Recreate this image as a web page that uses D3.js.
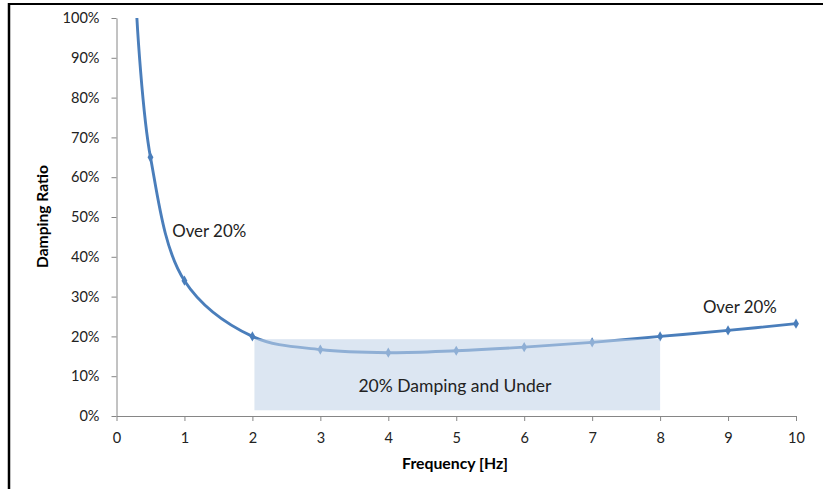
<!DOCTYPE html>
<html><head><meta charset="utf-8">
<script src="https://cdn.jsdelivr.net/npm/d3@7"></script>
<style>
html,body{margin:0;padding:0;background:#fff;}
svg text{font-family:"Lato","Open Sans",sans-serif;}
</style></head>
<body>
<svg id="chart" width="823" height="489"></svg>
<script>
const frequency = [0.3, 0.5, 1, 2, 3, 4, 5, 6, 7, 8, 9, 10];
const damping   = [1.00, 0.65, 0.34, 0.20, 0.167, 0.159, 0.164, 0.173, 0.185, 0.20, 0.215, 0.232];
const showMarker = [false, true, true, true, true, true, true, true, true, true, true, true];
const xTicks = [0,1,2,3,4,5,6,7,8,9,10];
const yTicks = [0,0.1,0.2,0.3,0.4,0.5,0.6,0.7,0.8,0.9,1.0];
const band = {x0: 2.03, x1: 8, y0: 0.0143, y1: 0.193};
const annotations = [
  {text:"Over 20%", x:0.82, y:0.45, w:74},
  {text:"Over 20%", x:8.63, y:0.259, w:74},
  {text:"20% Damping and Under", x:4.98, y:0.06, anchor:"middle", w:193}
];

const svg = d3.select("#chart");
const x = d3.scaleLinear().domain([0,10]).range([116.5,796]);
const y = d3.scaleLinear().domain([0,1]).range([416,18]);

function fit(sel, target){
  const base = 14;
  sel.style("font-size", base+"px");
  const w = sel.node().getComputedTextLength();
  const fs = base*target/w;
  sel.style("font-size", fs+"px");
  return fs;
}

// border
svg.append("line").attr("x1",8).attr("x2",823).attr("y1",4).attr("y2",4).attr("stroke","#000").attr("stroke-width",2.2);
svg.append("line").attr("x1",9).attr("x2",9).attr("y1",3).attr("y2",489).attr("stroke","#000").attr("stroke-width",2.5);

// axes
const yAxis = svg.append("g").attr("transform","translate(116.5,0)")
  .call(d3.axisLeft(y).tickValues(yTicks).tickFormat(d3.format(".0%")).tickSizeOuter(0).tickSizeInner(5).tickPadding(12));
const xAxis = svg.append("g").attr("transform","translate(0,416)")
  .call(d3.axisBottom(x).tickValues(xTicks).tickFormat(d3.format("d")).tickSizeOuter(0).tickSizeInner(5).tickPadding(12));
[yAxis,xAxis].forEach(g=>{
  g.select(".domain").attr("stroke","#868686").attr("stroke-width",1);
  g.selectAll(".tick line").attr("stroke","#868686");
  g.selectAll(".tick text").attr("fill","#222").style("font-family","Lato,'Open Sans',sans-serif");
});
// size tick labels so "100%" is ~37px wide
const topLbl = yAxis.selectAll(".tick text").filter(d=>d===1.0);
const tfs = fit(topLbl, 37);
yAxis.selectAll(".tick text").style("font-size", tfs+"px");
xAxis.selectAll(".tick text").style("font-size", tfs+"px");

// line
const pts = frequency.map((f,i)=>({f, d:damping[i], m:showMarker[i]}));
const line = d3.line().x(p=>x(p.f)).y(p=>y(p.d)).curve(d3.curveCatmullRom.alpha(0.5));
svg.append("path").datum(pts).attr("d",line).attr("fill","none").attr("stroke","#4a7ebb").attr("stroke-width",2.9);
svg.selectAll(".mk").data(pts.filter(p=>p.m)).enter().append("path")
  .attr("transform",p=>`translate(${x(p.f)},${y(p.d)})`)
  .attr("d",d3.symbol().type(d3.symbolDiamond).size(30))
  .attr("fill","#4a7ebb");

// shaded band on top (semi-transparent)
svg.append("rect").attr("x",x(band.x0)).attr("y",y(band.y1))
  .attr("width",x(band.x1)-x(band.x0)).attr("height",y(band.y0)-y(band.y1))
  .attr("fill","rgb(194,212,232)").attr("fill-opacity",0.575);

// annotations
annotations.forEach(a=>{
  const t = svg.append("text").attr("x",x(a.x)).attr("y",y(a.y)).attr("text-anchor",a.anchor||"start")
    .attr("fill","#222").text(a.text);
  fit(t, a.w);
});

// titles
const xt = svg.append("text").attr("x",455).attr("y",469).attr("text-anchor","middle")
  .style("font-weight","bold").attr("fill","#000").text("Frequency [Hz]");
fit(xt, 106);
const yt = svg.append("text").attr("transform","translate(48,216.5) rotate(-90)").attr("text-anchor","middle")
  .style("font-weight","bold").attr("fill","#000").text("Damping Ratio");
fit(yt, 103);
</script>
</body></html>
